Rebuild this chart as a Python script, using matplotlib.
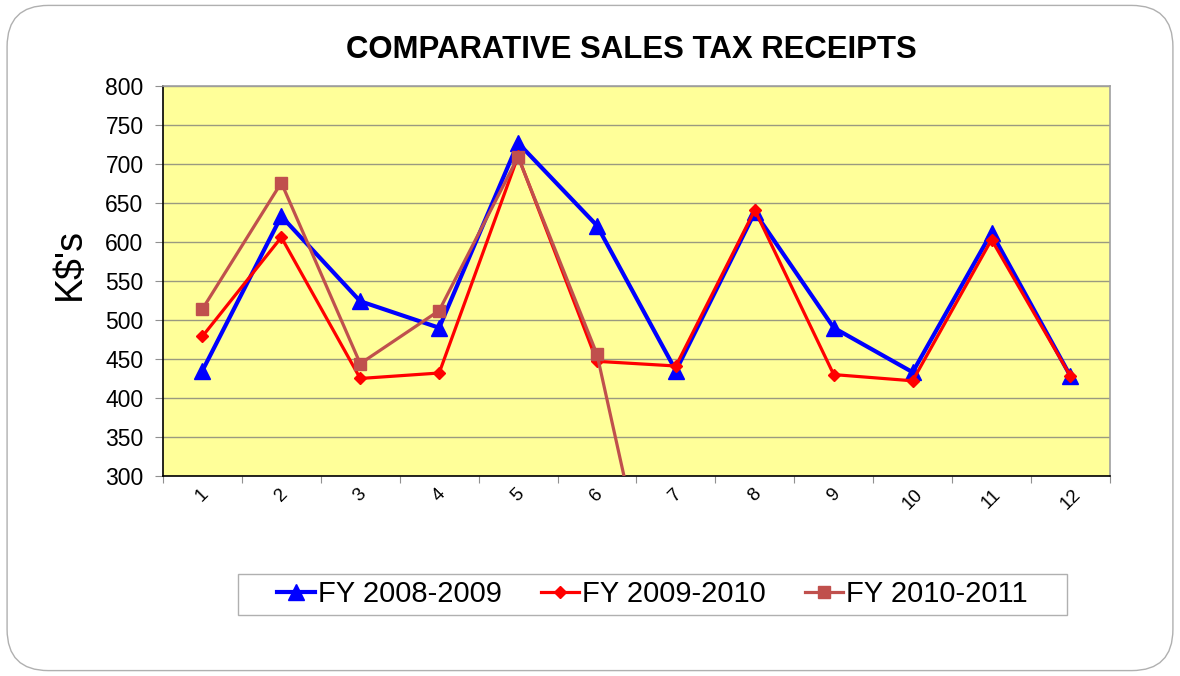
import matplotlib
matplotlib.use("Agg")
import matplotlib.pyplot as plt
import numpy as np
from matplotlib.patches import FancyBboxPatch, Rectangle
from matplotlib.ticker import FixedLocator

plt.rcParams["font.family"] = ["Liberation Sans", "DejaVu Sans"]

# ── Data ──────────────────────────────────────────────────────────────────────
months = [1, 2, 3, 4, 5, 6, 7, 8, 9, 10, 11, 12]
month_labels = [str(m) for m in months]
fy_0809 = [435, 633, 524, 490, 727, 621, 435, 638, 490, 433, 612, 428]
fy_0910 = [479, 606, 425, 432, 710, 447, 441, 641, 430, 422, 603, 428]
fy_1011 = [514, 676, 444, 512, 709, 456, 0, np.nan, np.nan, np.nan, np.nan, np.nan]

series = [
    ("FY 2008-2009", fy_0809, "#0000FF", "^", 3.0, 11),
    ("FY 2009-2010", fy_0910, "#FF0000", "D", 2.3, 6.5),
    ("FY 2010-2011", fy_1011, "#C0504D", "s", 2.3, 8.5),
]

# ── Figure ────────────────────────────────────────────────────────────────────
fig = plt.figure(figsize=(11.8, 6.76), dpi=100)
fig.patch.set_facecolor("white")

border = FancyBboxPatch((0.006, 0.008), 0.988, 0.984,
                        boxstyle="round,pad=0,rounding_size=0.035",
                        transform=fig.transFigure, facecolor="white",
                        edgecolor="#b0b0b0", linewidth=1.0,
                        mutation_aspect=1180 / 676, zorder=-10)
fig.patches.append(border)

ax = fig.add_axes([0.1381, 0.2959, 0.8025, 0.5769])
ax.set_zorder(2)
ax.set_facecolor("#FFFF99")

for i, (label, vals, color, marker, lw, ms) in enumerate(series):
    ax.plot(months, vals, color=color, marker=marker, linewidth=lw,
            markersize=ms, markeredgecolor=color, label=label, zorder=3 + i)

ax.set_xlim(0.5, 12.5)
ax.set_ylim(300, 800)
ax.set_yticks(np.arange(300, 801, 50))
ax.yaxis.grid(True, color="#9a9a80", linewidth=1.0, zorder=1)
ax.set_axisbelow(True)

# category ticks between months, labels at centres
ax.xaxis.set_major_locator(FixedLocator(np.arange(0.5, 13, 1)))
ax.xaxis.set_minor_locator(FixedLocator(months))
ax.set_xticklabels([])
ax.set_xticklabels(month_labels, minor=True, rotation=45, fontsize=13.5,
                   ha="center", va="top")
ax.tick_params(axis="x", which="major", length=5, color="#909090", direction="out")
ax.tick_params(axis="x", which="minor", length=0, pad=7)
ax.tick_params(axis="y", length=6, color="#909090", labelsize=16.5, pad=8)

for side in ["top", "right"]:
    ax.spines[side].set_color("#a0a0a0")
    ax.spines[side].set_linewidth(1.2)
for side in ["left", "bottom"]:
    ax.spines[side].set_color("black")
    ax.spines[side].set_linewidth(1.2)

fig.text(0.535, 0.926, "COMPARATIVE SALES TAX RECEIPTS", ha="center", va="center",
         fontsize=22.4, fontweight="bold")
fig.text(0.059, 0.609, "K$'s", ha="center", va="center", rotation=90, fontsize=27)

# legend box is wider than its entries
fig.patches.append(Rectangle((238 / 1180, 1 - 615 / 676), (1067 - 238) / 1180, 41 / 676,
                             transform=fig.transFigure, facecolor="white",
                             edgecolor="#b0b0b0", linewidth=1.0, zorder=1))
leg = fig.legend(loc="center", bbox_to_anchor=(0.553, 0.1206), ncol=3, fontsize=21,
                 frameon=False, handlelength=1.3, handletextpad=0.1,
                 columnspacing=1.35, borderpad=0.3)

plt.savefig("out.png", dpi=100)
